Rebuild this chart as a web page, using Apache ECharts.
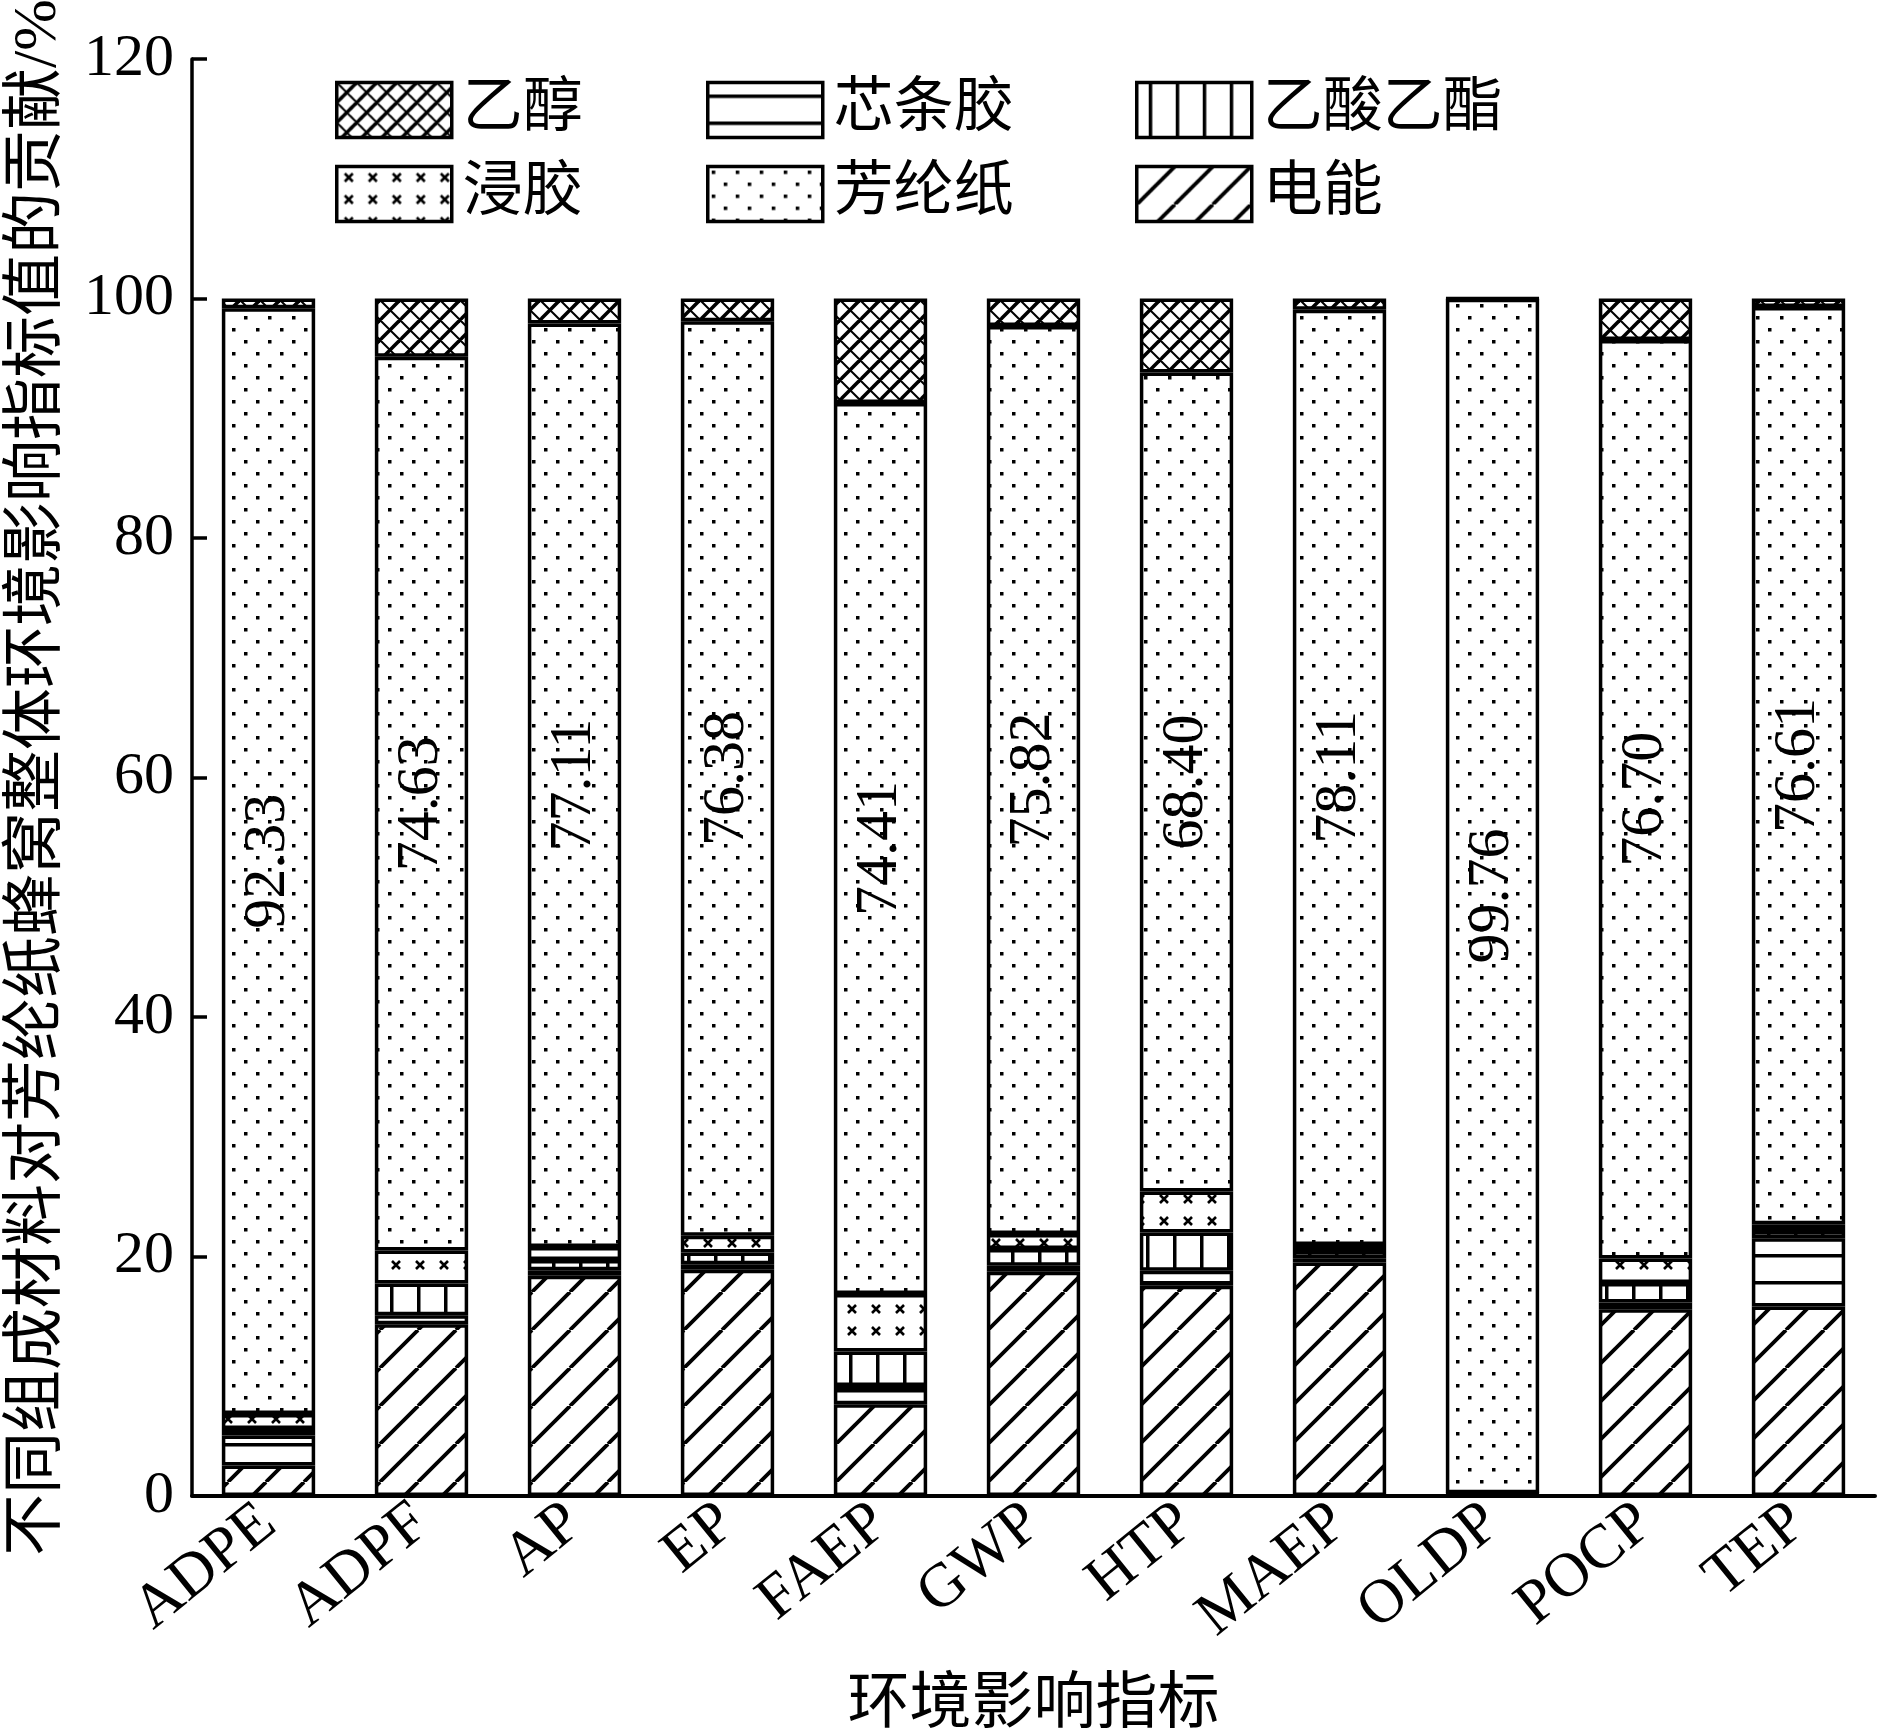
<!DOCTYPE html>
<html>
<head>
<meta charset="utf-8">
<script src="https://cdn.jsdelivr.net/npm/echarts@6/dist/echarts.min.js"></script>
<style>
html,body{margin:0;padding:0;background:#fff;}
#chart{width:1877px;height:1730px;}
</style>
</head>
<body>
<div id="chart"></div>
<script>
// ---- data ----
const categories = ['ADPE','ADPF','AP','EP','FAEP','GWP','HTP','MAEP','OLDP','POCP','TEP'];
const seriesNames = ['电能','芯条胶','乙酸乙酯','浸胶','芳纶纸','乙醇'];
const dianneng   = [2.55, 14.35, 18.40, 18.90, 7.66, 18.73, 17.56, 19.50, 0.10, 15.60, 15.83];
const xintiaojiao= [2.50, 0.75, 0.45, 0.45, 1.53, 0.50, 1.25, 0.35, 0.05, 0.56, 5.69];
const yisuanyizhi= [0.55, 2.65, 0.85, 0.98, 2.87, 1.40, 3.20, 0.60, 0.05, 1.62, 0.60];
const jinjiao    = [1.25, 2.75, 1.10, 1.40, 4.80, 1.25, 3.41, 0.50, 0.02, 2.06, 0.57];
const fanglunzhi = [92.33, 74.63, 77.11, 76.38, 74.41, 75.82, 68.40, 78.11, 99.76, 76.70, 76.61];
const yichun     = [0.82, 4.87, 2.09, 1.89, 8.73, 2.30, 6.18, 0.94, 0.02, 3.46, 0.70];
const yTicks = [0, 20, 40, 60, 80, 100, 120];

// ---- patterns ----
function makeCanvas(w, h) {
  const c = document.createElement('canvas');
  c.width = w; c.height = h;
  const ctx = c.getContext('2d');
  ctx.fillStyle = '#fff';
  ctx.fillRect(0, 0, w, h);
  ctx.strokeStyle = '#000';
  ctx.fillStyle = '#000';
  return [c, ctx];
}
function diagPattern() {
  const s = 38;
  const [c, ctx] = makeCanvas(s, s);
  ctx.lineWidth = 3.8;
  for (let k = -1; k <= 1; k++) {
    ctx.beginPath();
    ctx.moveTo(k * s, s);
    ctx.lineTo(k * s + s, 0);
    ctx.stroke();
  }
  return c;
}
function hLinePattern() {
  const [c, ctx] = makeCanvas(10, 27);
  ctx.fillRect(0, 12, 10, 3.5);
  return c;
}
function vLinePattern() {
  const [c, ctx] = makeCanvas(27, 10);
  ctx.fillRect(12, 0, 3.5, 10);
  return c;
}
function xPattern() {
  const [c, ctx] = makeCanvas(24, 22);
  ctx.lineWidth = 2.6;
  ctx.beginPath();
  ctx.moveTo(8, 7); ctx.lineTo(16, 15);
  ctx.moveTo(16, 7); ctx.lineTo(8, 15);
  ctx.stroke();
  return c;
}
function dotPattern() {
  const [c, ctx] = makeCanvas(24, 24);
  ctx.fillRect(4, 4, 3.5, 3.5);
  ctx.fillRect(16, 16, 3.5, 3.5);
  return c;
}
function crossPattern() {
  const s = 20;
  const [c, ctx] = makeCanvas(s, s);
  ctx.lineWidth = 3.6;
  for (let k = -1; k <= 1; k++) {
    ctx.beginPath();
    ctx.moveTo(k * s, s);
    ctx.lineTo(k * s + s, 0);
    ctx.stroke();
  }
  ctx.lineWidth = 2;
  for (let k = -1; k <= 1; k++) {
    ctx.beginPath();
    ctx.moveTo(k * s, 0);
    ctx.lineTo(k * s + s, s);
    ctx.stroke();
  }
  return c;
}
const patterns = [diagPattern(), hLinePattern(), vLinePattern(), xPattern(), dotPattern(), crossPattern()];
const dataArrays = [dianneng, xintiaojiao, yisuanyizhi, jinjiao, fanglunzhi, yichun];

const serif = 'Liberation Serif, Times New Roman, Noto Sans CJK SC, serif';

const series = seriesNames.map((name, i) => {
  const s = {
    name: name,
    type: 'bar',
    stack: 'total',
    barWidth: '61%',
    data: dataArrays[i],
    itemStyle: {
      color: { image: patterns[i], repeat: 'repeat' },
      borderColor: '#000',
      borderWidth: 3.5
    },
    emphasis: { disabled: true },
    animation: false
  };
  if (name === '芳纶纸') {
    s.label = {
      show: true,
      position: 'inside',
      rotate: 90,
      align: 'center',
      verticalAlign: 'middle',
      fontSize: 60,
      fontFamily: serif,
      color: '#000',
      formatter: p => Number(p.value).toFixed(2)
    };
  }
  return s;
});

const legendCommon = {
  orient: 'vertical',
  top: 75,
  itemWidth: 115,
  itemHeight: 55,
  itemGap: 24,
  icon: 'rect',
  selectedMode: false,
  textStyle: { fontSize: 60, fontFamily: serif, color: '#000', padding: [0, 0, 0, 6] },
  itemStyle: { borderColor: '#000', borderWidth: 3.5 }
};

const chart = echarts.init(document.getElementById('chart'), null, { renderer: 'canvas' });
chart.setOption({
  backgroundColor: '#fff',
  animation: false,
  legend: [
    Object.assign({}, legendCommon, { left: 330, data: ['乙醇', '浸胶'] }),
    Object.assign({}, legendCommon, { left: 701, data: ['芯条胶', '芳纶纸'] }),
    Object.assign({}, legendCommon, { left: 1130, data: ['乙酸乙酯', '电能'] })
  ],
  grid: { left: 192, right: 2, top: 59, bottom: 234, containLabel: false, outerBoundsMode: 'none' },
  xAxis: {
    type: 'category',
    data: categories,
    name: '环境影响指标',
    nameLocation: 'middle',
    nameGap: 180,
    nameTextStyle: { fontSize: 62, fontFamily: serif, color: '#000' },
    axisLine: { show: true, lineStyle: { color: '#000', width: 4 } },
    axisTick: { show: false },
    axisLabel: { rotate: 39, fontSize: 62, fontFamily: serif, color: '#000', margin: 20, interval: 0 }
  },
  yAxis: {
    type: 'value',
    min: yTicks[0],
    max: yTicks[yTicks.length - 1],
    interval: 20,
    name: '不同组成材料对芳纶纸蜂窝整体环境影响指标值的贡献/%',
    nameLocation: 'middle',
    nameGap: 122,
    nameTextStyle: { fontSize: 62, fontFamily: serif, color: '#000' },
    axisLine: { show: true, lineStyle: { color: '#000', width: 3.5 } },
    axisTick: { show: true, inside: true, length: 15, lineStyle: { color: '#000', width: 3.5 } },
    axisLabel: { fontSize: 60, fontFamily: serif, color: '#000', margin: 18 },
    splitLine: { show: false }
  },
  series: series
});
</script>
</body>
</html>
